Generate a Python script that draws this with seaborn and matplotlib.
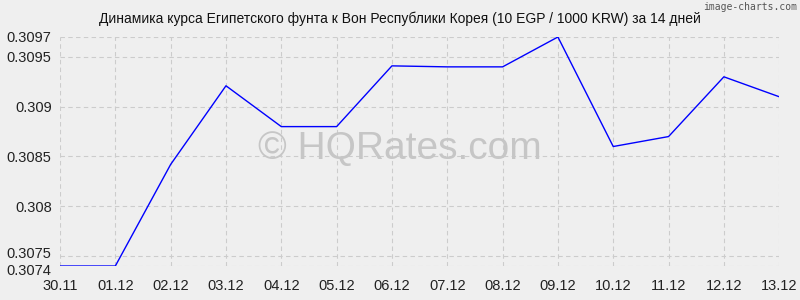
import matplotlib
matplotlib.use("Agg")
import matplotlib.pyplot as plt
import matplotlib.transforms as mtransforms
import seaborn as sns
import pandas as pd

dates = ["30.11", "01.12", "02.12", "03.12", "04.12", "05.12", "06.12",
         "07.12", "08.12", "09.12", "10.12", "11.12", "12.12", "13.12"]
rates = [0.3074, 0.3074, 0.30842, 0.30921, 0.30880, 0.30880, 0.30941,
         0.30940, 0.30940, 0.30970, 0.30860, 0.30870, 0.30930, 0.30910]
yticks = [0.3074, 0.3075, 0.308, 0.3085, 0.309, 0.3095, 0.3097]
ytick_labels = ["0.3074", "0.3075", "0.308", "0.3085", "0.309", "0.3095", "0.3097"]
title = "Динамика курса Египетского фунта к Вон Республики Корея (10 EGP / 1000 KRW) за 14 дней"

sns.set_style("white")
plt.rcParams['font.family'] = ['Liberation Sans', 'DejaVu Sans']

df = pd.DataFrame({"idx": range(len(dates)), "rate": rates})

fig = plt.figure(figsize=(8, 3), dpi=100, facecolor="#efefef")
ax = fig.add_axes([0.075, 0.1133, 0.899, 0.7634])
ax.set_facecolor("#efefef")

sns.lineplot(data=df, x="idx", y="rate", ax=ax, color="#0000ff", linewidth=1)

ax.set_xlim(0, len(dates) - 1)
ax.set_ylim(0.3074, 0.3097)
ax.set_xticks(range(len(dates)))
ax.set_xticklabels(dates)
ax.set_yticks(yticks)
ax.set_yticklabels(ytick_labels)
ax.tick_params(axis="both", labelsize=10.5, colors="#222222", length=0)
ax.tick_params(axis="x", pad=9)
ax.tick_params(axis="y", pad=6)
ax.set_xlabel("")
ax.set_ylabel("")
ax.grid(True, color="#cccccc", linestyle=(0, (4, 3)), linewidth=0.8)
for s in ax.spines.values():
    s.set_visible(False)

# nudge the two crowded bottom labels apart slightly
labels = ax.get_yticklabels()
labels[0].set_transform(labels[0].get_transform() +
                        mtransforms.ScaledTranslation(0, -2.5 / 72, fig.dpi_scale_trans))
labels[1].set_transform(labels[1].get_transform() +
                        mtransforms.ScaledTranslation(0, 2.5 / 72, fig.dpi_scale_trans))

fig.text(0.5, 0.938, title, ha="center", va="center", fontsize=10, color="#111111")
fig.text(0.996, 0.977, "image-charts.com", ha="right", va="center", fontsize=7,
         color="#555555", family=["DejaVu Sans Mono"])
fig.text(0.5, 0.505, "© HQRates.com", ha="center", va="center", fontsize=28,
         color="#c6c6c6", zorder=0)

fig.savefig("out.png", dpi=100, facecolor="#efefef")
